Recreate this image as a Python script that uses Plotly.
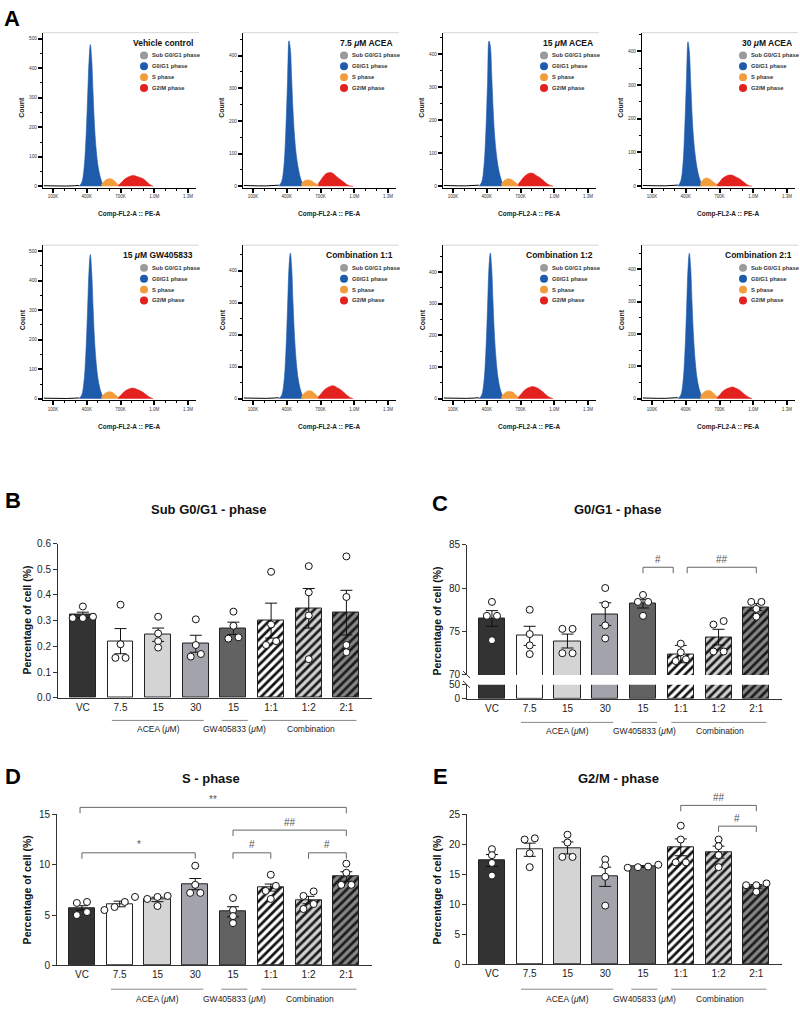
import plotly.graph_objects as go

W, H = 800, 1011
FONT = "Arial, 'Liberation Sans', Helvetica, sans-serif"


def fx(px):
    return px / W


def fy(py):
    return 1 - py / H


# ======================= DATA =======================
# ---- Panel A : flow-cytometry histograms (x in thousands, y = count) ----
hist_titles = ["Vehicle control", "7.5 <i>μ</i>M ACEA", "15 <i>μ</i>M ACEA", "30 <i>μ</i>M ACEA",
               "15 <i>μ</i>M GW405833", "Combination 1:1", "Combination 1:2", "Combination 2:1"]
phase_names = ["Sub G0/G1 phase", "G0/G1 phase", "S phase", "G2/M phase"]
hist_xticks = [100, 400, 700, 1000, 1300]
hist_xticktext = ["100K", "400K", "700K", "1.0M", "1.3M"]

debris_x = [20, 80, 150, 220, 290, 330]
debris_counts = [2, 1, 1, 1, 2, 3]

g1_x = [330, 355, 375, 392, 408, 420, 432, 444, 456, 470, 485, 500, 518, 540]
g1_counts = [
    [0, 12, 55, 150, 300, 420, 480, 430, 320, 200, 120, 70, 35, 8],
    [0, 14, 60, 170, 330, 445, 420, 330, 230, 150, 95, 60, 30, 8],
    [0, 12, 58, 160, 320, 440, 425, 340, 240, 155, 100, 62, 32, 8],
    [0, 14, 62, 175, 330, 428, 400, 310, 215, 140, 90, 55, 28, 7],
    [0, 12, 55, 150, 305, 430, 488, 430, 315, 195, 118, 68, 34, 8],
    [0, 10, 50, 140, 290, 410, 455, 410, 300, 190, 115, 66, 33, 8],
    [0, 11, 52, 145, 295, 415, 460, 412, 305, 192, 117, 67, 33, 8],
    [0, 10, 48, 135, 280, 400, 450, 405, 298, 188, 113, 65, 32, 8],
]
s_x = [530, 555, 580, 605, 630, 655, 685]
s_counts = [
    [6, 17, 24, 26, 23, 15, 4],
    [8, 16, 19, 18, 14, 8, 3],
    [7, 17, 22, 22, 18, 11, 3],
    [8, 20, 24, 22, 17, 10, 3],
    [6, 16, 22, 24, 21, 14, 4],
    [6, 17, 23, 25, 22, 14, 4],
    [6, 16, 22, 23, 21, 13, 4],
    [7, 18, 24, 25, 22, 14, 4],
]
g2_x = [680, 705, 730, 760, 790, 815, 840, 870, 900, 930, 960, 990]
g2_counts = [
    [3, 12, 22, 30, 35, 37, 34, 30, 26, 16, 6, 0],
    [8, 20, 32, 40, 42, 38, 30, 22, 14, 6, 1, 0],
    [6, 17, 28, 36, 40, 38, 32, 26, 18, 9, 3, 0],
    [5, 14, 24, 30, 33, 32, 28, 23, 16, 8, 2, 0],
    [4, 13, 23, 31, 35, 36, 33, 28, 22, 13, 5, 0],
    [5, 15, 26, 34, 39, 40, 36, 30, 22, 12, 4, 0],
    [4, 14, 25, 33, 37, 38, 35, 29, 21, 11, 4, 0],
    [4, 13, 23, 30, 34, 36, 33, 28, 20, 11, 4, 0],
]
hist_ymax = [520, 470, 465, 455, 520, 480, 485, 475]

# ---- Panels B-E : bar charts (mean, SEM, individual replicates) ----
categories = ["VC", "7.5", "15", "30", "15", "1:1", "1:2", "2:1"]
group_names = ["ACEA (<i>μ</i>M)", "GW405833 (<i>μ</i>M)", "Combination"]

subg1_mean = [0.322, 0.220, 0.245, 0.210, 0.270, 0.300, 0.348, 0.331]
subg1_sem = [0.011, 0.049, 0.026, 0.033, 0.024, 0.068, 0.077, 0.087]
subg1_points = [[0.355, 0.315, 0.31, 0.31], [0.362, 0.208, 0.155, 0.155],
                [0.315, 0.25, 0.22, 0.195], [0.305, 0.205, 0.17, 0.16],
                [0.335, 0.28, 0.235, 0.23], [0.49, 0.285, 0.22, 0.205],
                [0.512, 0.41, 0.32, 0.15], [0.55, 0.392, 0.205, 0.177]]

g0g1_mean = [76.5, 74.5, 73.9, 77.0, 78.2, 72.4, 74.35, 77.8]
g0g1_sem = [0.9, 1.1, 0.8, 1.3, 0.5, 1.0, 0.9, 0.4]
g0g1_points = [[78.4, 76.8, 76.8, 74.0], [77.5, 74.7, 73.4, 72.4],
               [75.3, 75.3, 72.5, 72.5], [80.0, 78.1, 75.7, 74.2],
               [79.2, 78.4, 78.4, 76.8], [73.6, 72.6, 71.8, 71.6],
               [76.2, 75.8, 72.7, 72.7], [78.4, 78.4, 77.6, 76.7]]

s_mean = [5.7, 6.1, 6.55, 8.07, 5.33, 7.73, 6.49, 8.83]
s_sem = [0.23, 0.28, 0.22, 0.56, 0.5, 0.35, 0.37, 0.47]
s_points = [[6.3, 6.2, 5.3, 5.0], [6.8, 6.3, 5.8, 5.5], [6.9, 6.8, 6.6, 5.9],
            [9.9, 8.0, 7.2, 7.2], [6.7, 5.5, 4.9, 4.2], [9.0, 7.9, 7.4, 6.6],
            [7.35, 6.9, 6.1, 5.6], [10.1, 9.2, 8.0, 8.0]]

g2m_mean = [17.3, 19.1, 19.4, 14.6, 16.3, 19.5, 18.7, 13.0]
g2m_sem = [1.0, 1.1, 1.0, 1.6, 0.15, 1.4, 1.0, 0.3]
g2m_points = [[19.2, 18.2, 16.9, 14.8], [21.0, 20.8, 18.5, 16.2],
              [21.6, 20.3, 17.9, 17.9], [17.5, 16.5, 14.6, 9.8],
              [16.6, 16.3, 16.1, 16.2], [23.1, 20.8, 17.0, 17.0],
              [20.8, 19.7, 18.2, 16.2], [13.5, 13.2, 13.2, 12.1]]

# significance brackets: (from category, to category, label)
c_sig = [(4, 4.8, "#"), (5.17, 7, "##")]
d_sig = [(-0.05, 7, "**"), (4, 7, "##"), (0, 3, "*"), (4, 5, "#"), (6, 7, "#")]
e_sig = [(5, 7, "##"), (6, 7, "#")]

# ======================= STYLE =======================
phase_colors = ["#9b9b9b", "#1f5bab", "#f39c3c", "#e3211f"]
# plain bars: fill colour; hatched bars: stripe colour (pattern fg follows marker colour)
bar_colors = ["#333333", "#ffffff", "#d4d4d4", "#a3a3ab", "#626262", "#111111", "#1c1c1c", "#1a1a1a"]
bar_bg = ["#333333", "#ffffff", "#d4d4d4", "#a3a3ab", "#626262", "#ffffff", "#d0d0d0", "#858585"]
bar_patterns = ["", "", "", "", "", "/", "/", "/"]

fig = go.Figure()
layout = {}
shapes = []
annotations = []


def refs(n):
    return ("x" if n == 1 else f"x{n}"), ("y" if n == 1 else f"y{n}")


def key(k, n):
    return f"{k}axis" if n == 1 else f"{k}axis{n}"


def ann(text, px, py, size, bold=False, xanchor="center", angle=0, color="#111", xref="paper", xval=None):
    annotations.append(dict(
        text=f"<b>{text}</b>" if bold else text,
        x=fx(px) if xval is None else xval, y=fy(py), xref=xref, yref="paper",
        xanchor=xanchor, yanchor="middle", showarrow=False, textangle=angle,
        font=dict(size=size, color=color, family=FONT)))


# ======================= PANEL A =======================
ann("A", 12, 13, 22, bold=True, color="#000")
lefts = [43, 243, 443, 642]
tops = [27, 242]
bots = [184, 399]
PW = 153
for i in range(8):
    n = i + 1
    row, col = divmod(i, 4)
    L, T, B = lefts[col], tops[row], bots[row]
    xr, yr = refs(n)
    layout[key("x", n)] = dict(
        domain=[fx(L), fx(L + PW)], range=[12, 1370], anchor=yr,
        tickmode="array", tickvals=hist_xticks, ticktext=hist_xticktext,
        ticks="outside", ticklen=4, tickwidth=1.6, tickcolor="#000",
        showline=True, linecolor="#000", linewidth=1, showgrid=False, zeroline=False,
        tickfont=dict(size=4.5, color="#333"),
        minor=dict(tick0=0, dtick=100, ticks="outside", ticklen=2, tickwidth=1, tickcolor="#000"))
    layout[key("y", n)] = dict(
        domain=[fy(B), fy(T)], range=[-5, hist_ymax[i]], anchor=xr,
        tickmode="linear", tick0=0, dtick=100,
        ticks="outside", ticklen=4, tickwidth=1.6, tickcolor="#000",
        showline=True, linecolor="#000", linewidth=1, showgrid=False, zeroline=False,
        tickfont=dict(size=4.8, color="#333"),
        minor=dict(tick0=0, dtick=50, ticks="outside", ticklen=2, tickwidth=1, tickcolor="#000"))
    fig.add_trace(go.Scatter(x=debris_x, y=debris_counts, mode="lines", line=dict(color="#000", width=1),
                             xaxis=xr, yaxis=yr, hoverinfo="skip"))
    for xs, ys, c in ((g1_x, g1_counts[i], phase_colors[1]),
                      (s_x, s_counts[i], phase_colors[2]),
                      (g2_x, g2_counts[i], phase_colors[3])):
        fig.add_trace(go.Scatter(x=xs, y=ys, mode="lines", fill="tozeroy", fillcolor=c,
                                 line=dict(color=c, width=0.6, shape="spline"),
                                 xaxis=xr, yaxis=yr, hoverinfo="skip"))
    # light top frame line
    shapes.append(dict(type="line", xref="paper", yref="paper", x0=fx(L), x1=fx(min(L + PW + 3, 799)),
                       y0=fy(T), y1=fy(T), line=dict(color="#d6d6d6", width=1)))
    # axis titles
    ann("Count", L - 21, T + 76, 7, bold=True, angle=-90, color="#222")
    ann("Comp-FL2-A :: PE-A", L + 86, B + 27, 6.5, bold=True, color="#222")
    # legend
    ann(hist_titles[i], L + 152, T + 10, 8.5, bold=True, xanchor="right", color="#111")
    for k in range(4):
        cy = T + 23 + 11 * k
        cx = L + 101
        shapes.append(dict(type="circle", xref="paper", yref="paper",
                           x0=fx(cx - 4), x1=fx(cx + 4), y0=fy(cy + 4), y1=fy(cy - 4),
                           fillcolor=phase_colors[k], line=dict(width=0)))
        ann(phase_names[k], L + 107, cy, 5.8, bold=True, xanchor="left", color="#333")


# ======================= BAR PANELS =======================
def swarm(values, px_per_unit, step=0.27, tol=6):
    order = sorted(range(len(values)), key=lambda k: values[k])
    offs = [0.0] * len(values)
    clusters, cur = [], [order[0]]
    for k in order[1:]:
        if abs(values[k] - values[cur[-1]]) * px_per_unit < tol:
            cur.append(k)
        else:
            clusters.append(cur)
            cur = [k]
    clusters.append(cur)
    for c in clusters:
        m = len(c)
        for j, k in enumerate(c):
            offs[k] = (j - (m - 1) / 2) * step
    return offs


def add_bars(xr, yr, means, sems, with_err=True):
    # one trace per bar so each hatched bar gets its own background colour
    for i in range(len(categories)):
        fig.add_trace(go.Bar(
            x=[i], y=[means[i]], xaxis=xr, yaxis=yr, width=0.69,
            marker=dict(color=bar_colors[i], line=dict(color="#222", width=1),
                        pattern=dict(shape=bar_patterns[i], bgcolor=bar_bg[i],
                                     size=6, solidity=0.45, fillmode="replace")),
            error_y=dict(type="data", array=[sems[i]], visible=with_err, color="#111",
                         thickness=1, width=6),
            hoverinfo="skip"))


def add_points(xr, yr, pts, pxu):
    xs, ys = [], []
    for i, vals in enumerate(pts):
        offs = swarm(vals, pxu)
        xs += [i + o for o in offs]
        ys += vals
    fig.add_trace(go.Scatter(x=xs, y=ys, mode="markers", xaxis=xr, yaxis=yr, cliponaxis=False,
                             marker=dict(size=7, color="white", line=dict(color="#111", width=1)),
                             hoverinfo="skip"))


def bar_xaxis(L, R, anchor):
    return dict(domain=[fx(L), fx(R)], range=[-0.66, 7.68], anchor=anchor,
                tickmode="array", tickvals=list(range(8)), ticktext=categories, ticks="",
                showline=True, linecolor="#333", linewidth=1, showgrid=False, zeroline=False,
                tickfont=dict(size=10, color="#222"))


def bar_yaxis(top, bot, rng, tickvals, anchor, fmt=None):
    d = dict(domain=[fy(bot), fy(top)], range=rng, anchor=anchor,
             tickmode="array", tickvals=tickvals, ticks="outside", ticklen=4, tickcolor="#333",
             showline=True, linecolor="#333", linewidth=1, showgrid=False, zeroline=False,
             tickfont=dict(size=10, color="#222"))
    if fmt:
        d["tickformat"] = fmt
    return d


def add_groups(xr, line_py, text_py):
    spans = [(0.77, 3.21), (3.69, 4.38), (4.75, 7.27)]
    centers = [2.0, 4.03, 6.05]
    for (a, b), c, name in zip(spans, centers, group_names):
        shapes.append(dict(type="line", xref=xr, yref="paper", x0=a, x1=b,
                           y0=fy(line_py), y1=fy(line_py), line=dict(color="#888", width=1)))
        ann(name, 0, text_py, 8.5, color="#222", xref=xr, xval=c)


def add_brackets(xr, sig, ypx):
    for (a, b, lab), py in zip(sig, ypx):
        y0, y1 = fy(py + 6), fy(py)
        shapes.append(dict(type="path", xref=xr, yref="paper",
                           path=f"M {a},{y0} L {a},{y1} L {b},{y1} L {b},{y0}",
                           line=dict(color="#666", width=1)))
        ann(lab, 0, py - 8, 10, color="#555", xref=xr, xval=(a + b) / 2)


# ---- B ----
ann("B", 13, 500, 22, bold=True, color="#000")
ann("Sub G0/G1 - phase", 209, 510, 13, bold=True)
ann("Percentage of cell (%)", 27, 622, 10.5, bold=True, angle=-90)
layout[key("x", 9)] = bar_xaxis(58, 372, "y9")
layout[key("y", 9)] = bar_yaxis(544, 700, [0, 0.6], [0, 0.1, 0.2, 0.3, 0.4, 0.5, 0.6], "x9", ".1f")
add_bars("x9", "y9", subg1_mean, subg1_sem)
add_points("x9", "y9", subg1_points, 260)
add_groups("x9", 723, 732)

# ---- C (broken axis) ----
ann("C", 440, 503, 22, bold=True, color="#000")
ann("G0/G1 - phase", 617, 510, 13, bold=True)
ann("Percentage of cell (%)", 437, 623, 10.5, bold=True, angle=-90)
layout[key("x", 10)] = bar_xaxis(467, 782, "y11")
layout[key("y", 10)] = bar_yaxis(545, 677, [70, 85], [70, 75, 80, 85], "x10")
layout[key("y", 11)] = bar_yaxis(687, 701, [0, 50], [0, 50], "x10")
add_bars("x10", "y11", g0g1_mean, g0g1_sem, with_err=False)
add_bars("x10", "y10", g0g1_mean, g0g1_sem)
add_points("x10", "y10", g0g1_points, 8.8)
for py in (677, 687):
    shapes.append(dict(type="line", xref="paper", yref="paper", x0=fx(463), x1=fx(470),
                       y0=fy(py - 4), y1=fy(py + 3), line=dict(color="#333", width=1)))
add_groups("x10", 725, 734)
add_brackets("x10", c_sig, [568, 568])

# ---- D ----
ann("D", 13, 780, 22, bold=True, color="#000")
ann("S - phase", 211, 782, 13, bold=True)
ann("Percentage of cell (%)", 27, 895, 10.5, bold=True, angle=-90)
layout[key("x", 11)] = bar_xaxis(57, 372, "y12")
layout[key("y", 12)] = bar_yaxis(818, 971, [0, 15], [0, 5, 10, 15], "x11")
add_bars("x11", "y12", s_mean, s_sem)
add_points("x11", "y12", s_points, 10.2)
add_groups("x11", 995, 1005)
add_brackets("x11", d_sig, [811, 834, 857, 857, 857])

# ---- E ----
ann("E", 440, 780, 22, bold=True, color="#000")
ann("G2/M - phase", 618, 782, 13, bold=True)
ann("Percentage of cell (%)", 437, 895, 10.5, bold=True, angle=-90)
layout[key("x", 12)] = bar_xaxis(467, 782, "y13")
layout[key("y", 13)] = bar_yaxis(818, 970, [0, 25], [0, 5, 10, 15, 20, 25], "x12")
add_bars("x12", "y13", g2m_mean, g2m_sem)
add_points("x12", "y13", g2m_points, 6.1)
add_groups("x12", 995, 1005)
add_brackets("x12", e_sig, [809, 830])

fig.update_layout(
    width=W, height=H, margin=dict(l=0, r=0, t=0, b=0),
    paper_bgcolor="white", plot_bgcolor="white", showlegend=False,
    font=dict(family=FONT, color="#222"), barmode="overlay", bargap=0,
    shapes=shapes, annotations=annotations, **layout)

fig.write_html("out.html", config={"displayModeBar": False},
               post_script="document.body.style.margin='0px';document.body.style.overflow='hidden';")
